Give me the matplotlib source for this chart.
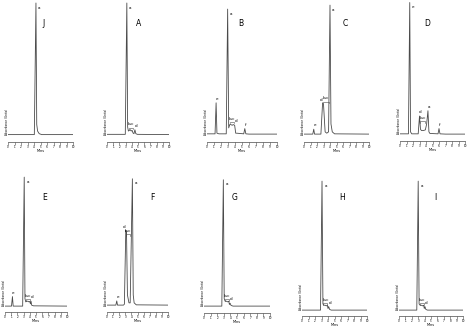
import matplotlib.pyplot as plt

# chromatogram traces (time in min, absorbance in % of full scale)
names = ['J', 'A', 'B', 'C', 'D', 'E', 'F', 'G', 'H', 'I']

t_J = [0, 4.05, 4.3, 4.42, 4.55, 4.8, 5.2, 10]
y_J = [0.3, 0.3, 100, 8, 3, 1, 0.3, 0.3]

t_A = [0, 2.95, 3.2, 3.33, 3.45, 3.6, 3.75, 3.9, 4.05, 4.2, 4.35, 4.5, 4.65, 4.9, 10]
y_A = [0.5, 0.5, 100, 6, 3, 3.5, 4, 3, 3.5, 1.5, 1, 4, 1, 0.5, 0.3]

t_B = [0, 1.15, 1.3, 1.42, 1.7, 2.75, 2.95, 3.1, 3.25, 3.4, 3.6, 3.75, 3.95, 4.1, 4.25, 5.25, 5.4, 5.55, 6, 10]
y_B = [0.5, 0.5, 24, 1, 0.5, 0.5, 95, 5, 7.5, 7.5, 7, 7.5, 7, 1, 1, 0.5, 4.5, 0.5, 0.3, 0.3]

t_C = [0, 1.35, 1.5, 1.62, 2.6, 2.86, 3.0, 3.25, 3.5, 3.78, 4.0, 4.15, 4.35, 4.7, 10]
y_C = [0.3, 0.3, 4, 0.3, 0.3, 24, 23, 2, 1, 2, 98, 8, 2, 0.5, 0.3]

t_D = [0, 1.3, 1.5, 1.62, 1.8, 2.8, 3.0, 3.15, 3.3, 3.6, 3.9, 4.1, 4.3, 4.45, 4.6, 5.85, 6.0, 6.15, 7, 10]
y_D = [0.5, 0.5, 100, 2, 0.5, 0.5, 14, 4, 3, 3, 3.5, 8, 18, 2, 0.8, 0.5, 4.5, 0.5, 0.3, 0.3]

t_E = [0, 1.05, 1.2, 1.32, 1.6, 2.85, 3.1, 3.22, 3.35, 3.5, 3.7, 3.85, 4.0, 4.1, 4.2, 4.3, 4.6, 10]
y_E = [0.3, 0.3, 7.5, 0.3, 0.3, 0.3, 98, 6, 3.5, 4, 4, 3.5, 3.8, 2, 4, 1, 0.5, 0.3]

t_F = [0, 1.45, 1.6, 1.72, 2.7, 2.85, 3.08, 3.2, 3.35, 3.6, 3.8, 4.16, 4.3, 4.45, 4.8, 10]
y_F = [0.3, 0.3, 3.5, 0.3, 0.3, 1, 57, 55, 8, 2, 2, 96, 8, 2, 0.5, 0.3]

t_G = [0, 2.7, 2.93, 3.06, 3.2, 3.4, 3.6, 3.75, 3.85, 3.95, 4.1, 4.4, 10]
y_G = [0.3, 0.3, 96, 6, 4, 4, 3.5, 4, 1.5, 2.5, 0.8, 0.3, 0.3]

t_H = [0, 2.85, 3.08, 3.22, 3.35, 3.55, 3.75, 3.9, 4.0, 4.1, 4.25, 4.5, 10]
y_H = [0.3, 0.3, 98, 5, 4, 4, 3.5, 4, 1.5, 3, 0.8, 0.3, 0.3]

t_I = [0, 2.78, 3.0, 3.14, 3.3, 3.5, 3.7, 3.85, 3.95, 4.05, 4.2, 4.45, 10]
y_I = [0.3, 0.3, 98, 5, 4, 4, 3.5, 4, 1.5, 3, 0.8, 0.3, 0.3]

times = [t_J, t_A, t_B, t_C, t_D, t_E, t_F, t_G, t_H, t_I]
signals = [y_J, y_A, y_B, y_C, y_D, y_E, y_F, y_G, y_H, y_I]

# peak labels: (text, time, height)
peaks = [
    [('a', 4.3, 100)],
    [('a', 3.2, 100), ('d', 4.5, 4)],
    [('e', 1.3, 24), ('a', 2.95, 95), ('d', 4.0, 7.5), ('f', 5.4, 4.5)],
    [('e', 1.5, 4), ('d', 2.86, 24), ('a', 4.0, 98)],
    [('e', 1.5, 100), ('d', 3.0, 14), ('a', 4.3, 18), ('f', 6.0, 4.5)],
    [('e', 1.2, 7.5), ('a', 3.1, 98), ('d', 4.2, 4)],
    [('e', 1.6, 3.5), ('d', 3.08, 57), ('a', 4.16, 96)],
    [('a', 2.93, 96), ('d', 3.95, 2.5)],
    [('a', 3.08, 98), ('d', 4.1, 3)],
    [('a', 3.0, 98), ('d', 4.05, 3)],
]
# b-c brackets: (start, end, height)
brackets = [None, (3.5, 4.2, 5.5), (3.3, 3.9, 9.5), (2.95, 3.85, 25), (3.05, 3.9, 10),
            (3.4, 4.0, 5.5), (3.1, 3.8, 54), (3.25, 3.75, 5.5), (3.3, 3.9, 5.5), (3.25, 3.85, 5.5)]

# layout in pixels: tick 0 x, tick 10 x, axis line y, baseline y, top y, letter x, letter y
W, H = 469, 326
layout = [
    (8, 73, 142, 135, 0, 44, 23),
    (107, 169, 142, 135, 0, 139, 23),
    (207, 277, 141.5, 134.5, 0, 241, 23),
    (304, 369, 141.5, 134.5, 0, 345, 23),
    (400, 465, 141, 134.5, 0, 427, 23),
    (5, 67, 311.5, 306.5, 170, 45, 197),
    (107, 168, 311.5, 305.5, 170, 152, 197),
    (204, 270, 312.5, 306.5, 170, 235, 197),
    (302, 367, 316, 310.5, 170, 342, 197),
    (399, 463, 316, 310.5, 170, 435, 198),
]
scale = 1.32  # px per unit
line_c = '#4a4a4a'

fig = plt.figure(figsize=(W / 100, H / 100), dpi=100)
for i in range(len(names)):
    x0, x1, ty, bl, top, lx, ly = layout[i]
    ax = fig.add_axes([x0 / W, (H - ty) / H, (x1 - x0) / W, (ty - top) / H])
    ax.plot(times[i], signals[i], color=line_c, lw=0.6)
    ymin = -(ty - bl) / scale
    ax.set_xlim(0, 10)
    ax.set_ylim(ymin, ymin + (ty - top) / scale)
    ax.patch.set_alpha(0)
    for s in ['top', 'right', 'left']:
        ax.spines[s].set_visible(False)
    ax.spines['bottom'].set_linewidth(0.5)
    ax.spines['bottom'].set_color(line_c)
    ax.set_yticks([])
    ax.set_xticks(range(11))
    ax.tick_params(axis='x', length=1.8, width=0.4, pad=0.4, labelsize=2, color=line_c)
    ax.set_xlabel('Mins', fontsize=2.5, labelpad=0.3)
    ax.text(-0.15, 0, 'Absorbance (Units)', rotation=90, fontsize=2, ha='center', va='bottom')
    for lab, pt, ph in peaks[i]:
        if ph > 80:
            # tall peaks: label sits just right of the apex
            ax.text(pt + 0.35, ph - 2, lab, fontsize=3, ha='left', va='top')
        elif lab == 'd' and brackets[i] is not None and brackets[i][2] > 20:
            ax.text(pt - 0.05, ph + 1, lab, fontsize=3, ha='right', va='bottom')
        else:
            ax.text(pt + 0.15, ph + 1.5, lab, fontsize=3, ha='center', va='bottom')
    if brackets[i] is not None:
        b0, b1, bh = brackets[i]
        ax.plot([b0, b0, b1, b1], [bh - 1, bh, bh, bh - 1], color=line_c, lw=0.4)
        ax.text((b0 + b1) / 2, bh + 1, 'b-c', fontsize=3, ha='center', va='bottom')
    fig.text(lx / W, (H - ly) / H, names[i], fontsize=5.5, ha='center', va='center')

plt.savefig('out.png', dpi=100)
